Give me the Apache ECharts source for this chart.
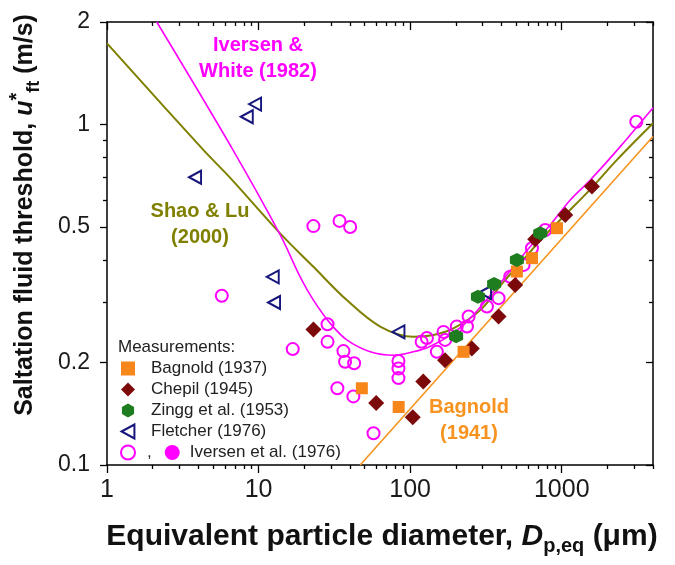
<!DOCTYPE html>
<html><head><meta charset="utf-8">
<script src="https://cdn.jsdelivr.net/npm/echarts@6/dist/echarts.min.js"></script>
<style>html,body{margin:0;padding:0;background:#fff}#c{width:675px;height:565px}</style>
</head><body><div id="c"></div>
<script>
// ---- tick values ----
const xMajorTicks = [1, 10, 100, 1000];
const xMinorTicks = [2,3,4,5,6,7,8,9,20,30,40,50,60,70,80,90,200,300,400,500,600,700,800,900,2000,3000,4000];
const yMajorTicks = [0.1, 0.2, 0.5, 1, 2];
const yMinorTicks = [0.3, 0.4, 0.6, 0.7, 0.8, 0.9];

// ---- measurements [D (um), u*ft (m/s)] ----
const bagnold1937 = [[48,0.168],[84,0.148],[225,0.215],[506,0.370],[636,0.405],[930,0.496]];
const chepil1945 = [[23,0.250],[59.7,0.152],[104,0.138],[122,0.176],[170,0.203],[255,0.220],[383,0.273],[493,0.338],[668,0.460],[1055,0.542],[1582,0.657]];
const zingg1953 = [[201,0.239],[280,0.312],[358,0.340],[506,0.400],[721,0.479]];
const fletcher1976 = [[3.81,0.700],[8.36,1.054],[9.48,1.148],[12.4,0.357],[12.65,0.300],[83.7,0.246],[312,0.321]];
const iversen1976 = [[5.72,0.314],[16.8,0.219],[23.0,0.503],[34.2,0.521],[40.2,0.500],[28.5,0.259],[28.5,0.230],
  [36.3,0.216],[37.2,0.201],[42.7,0.199],[33.1,0.168],[42.2,0.159],[57.3,0.124],[83.7,0.202],[83.7,0.192],[83.7,0.180],
  [119,0.230],[129,0.236],[150,0.215],[166,0.246],[170,0.233],[203,0.255],[237,0.255],[243,0.273],[321,0.292],
  [383,0.309],[457,0.357],[560,0.387],[636,0.433],[778,0.490],[3103,1.019]];

// ---- model curves ----
const iversenWhite1982 = [[2.13,2.0],[6.8,0.84],[13.9,0.474],[18.8,0.357],[23,0.305],[29.6,0.261],[38.2,0.233],[54.5,0.215],
  [77.6,0.210],[105,0.215],[135,0.223],[193,0.244],[262,0.276],[620,0.438],[839,0.507],[1138,0.600],[1542,0.687],[2432,0.861],[4000,1.12]];
const shaoLu2000 = [[1,1.73],[4.32,0.842],[6.5,0.697],[13.87,0.479],[23,0.382],[38.2,0.305],[63.4,0.255],[105,0.238],[142.5,0.241],
  [193,0.252],[290,0.285],[413,0.345],[532,0.391],[758,0.468],[1082,0.549],[1542,0.645],[2313,0.787],[4000,1.008]];
const bagnold1941 = [[46.8,0.1],[4000,0.922]];

const FONT = '"Liberation Sans", Arial, sans-serif';
const HEX = 'path://M0,-10 L8.66,-5 L8.66,5 L0,10 L-8.66,5 L-8.66,-5 Z';
const TRI = 'path://M0,6 L11,0 L11,12 Z';
const C = {bag:'#f7861b', che:'#7d0a0a', zin:'#1e7d1e', fle:'#16167c', ive:'#ff00ff', shao:'#808000', b41:'#f7931e'};

function mkAxis(dim, pos, ticks, len, inside, labels, line) {
  const isX = dim === 'x';
  return {
    type:'log', logBase:10, position:pos,
    min: isX ? 1 : 0.1, max: isX ? 4000 : 2,
    splitLine:{show:false}, minorTick:{show:false},
    axisLine:{show:line, onZero:false, lineStyle:{color:'#000', width:1.5}},
    axisTick:{show:true, customValues:ticks, length:len, inside:inside, lineStyle:{color:'#000', width:1.3}},
    axisLabel:{show:labels, customValues:ticks, formatter:v=>String(v),
      fontFamily:FONT, fontSize: isX ? 25 : 23, color:'#1a1a1a', margin: isX ? 13 : 17},
  };
}

const chart = echarts.init(document.getElementById('c'), null, {renderer:'canvas'});
chart.setOption({
  animation:false,
  backgroundColor:'#fff',
  grid:{left:107, top:22, width:546, height:443, containLabel:false, outerBoundsMode:'none'},
  xAxis:[
    mkAxis('x','bottom',xMajorTicks,8,false,true,true),
    mkAxis('x','bottom',xMinorTicks,4,false,false,false),
    mkAxis('x','top',xMajorTicks,8,true,false,true),
    mkAxis('x','top',xMinorTicks,4,true,false,false)
  ],
  yAxis:[
    mkAxis('y','left',yMajorTicks,7,false,true,true),
    mkAxis('y','left',yMinorTicks,4,false,false,false),
    mkAxis('y','right',yMajorTicks,7,true,false,true),
    mkAxis('y','right',yMinorTicks,4,true,false,false)
  ],
  legend:{
    orient:'vertical', left:120, top:360, padding:0, itemWidth:14, itemHeight:14, itemGap:4,
    textStyle:{fontFamily:FONT, fontSize:17, color:'#222', lineHeight:17,
      rich:{
        s0:{width:11},
        s1:{width:7},
        c:{fontFamily:FONT, fontSize:17, color:'#222'},
        s2:{width:13},
        d:{width:15, height:15, borderRadius:7.5, backgroundColor:C.ive},
        s3:{width:10}
      }},
    formatter: n => n === 'Iversen et al. (1976)' ? '{s1| }{c|,}{s2| }{d|}{s3| }' + n : '{s0| }' + n,
    data:[
      {name:'Bagnold (1937)'},
      {name:'Chepil (1945)'},
      {name:'Zingg et al. (1953)'},
      {name:'Fletcher (1976)', itemStyle:{color:'rgba(0,0,0,0)', borderColor:C.fle, borderWidth:2}},
      {name:'Iversen et al. (1976)', itemStyle:{color:'rgba(0,0,0,0)', borderColor:C.ive, borderWidth:2}}
    ]
  },
  series:[
    {name:'Bagnold (1941)', type:'line', data:bagnold1941, showSymbol:false, symbol:'none', z:1,
      lineStyle:{color:C.b41, width:1.6}},
    {name:'Shao & Lu (2000)', type:'line', data:shaoLu2000, smooth:0.35, showSymbol:false, symbol:'none', z:1,
      lineStyle:{color:C.shao, width:2}},
    {name:'Iversen & White (1982)', type:'line', data:iversenWhite1982, smooth:0.35, showSymbol:false, symbol:'none', z:1,
      lineStyle:{color:C.ive, width:1.6}},
    {name:'Iversen et al. (1976)', type:'scatter', data:iversen1976, symbol:'circle', symbolSize:12, z:3,
      itemStyle:{color:'rgba(0,0,0,0)', borderColor:C.ive, borderWidth:2, opacity:1}},
    {name:'Fletcher (1976)', type:'scatter', data:fletcher1976, symbol:TRI, symbolSize:[12,13], z:3,
      itemStyle:{color:'rgba(0,0,0,0)', borderColor:C.fle, borderWidth:2, opacity:1}},
    {name:'Chepil (1945)', type:'scatter', data:chepil1945, symbol:'diamond', symbolSize:16, z:4,
      itemStyle:{color:C.che, opacity:1}},
    {name:'Bagnold (1937)', type:'scatter', data:bagnold1937, symbol:'rect', symbolSize:12, z:5,
      itemStyle:{color:C.bag, opacity:1}},
    {name:'Zingg et al. (1953)', type:'scatter', data:zingg1953, symbol:HEX, symbolSize:14, z:6,
      itemStyle:{color:C.zin, opacity:1}}
  ],
  graphic:[
    {type:'text', x:258, y:58, z:10, style:{text:'Iversen &\nWhite (1982)', fill:C.ive, fontFamily:FONT, fontWeight:'bold', fontSize:20, lineHeight:26, align:'center', verticalAlign:'middle'}},
    {type:'text', x:200, y:224, z:10, style:{text:'Shao & Lu\n(2000)', fill:C.shao, fontFamily:FONT, fontWeight:'bold', fontSize:20, lineHeight:26, align:'center', verticalAlign:'middle'}},
    {type:'text', x:469, y:420, z:10, style:{text:'Bagnold\n(1941)', fill:C.b41, fontFamily:FONT, fontWeight:'bold', fontSize:20, lineHeight:26, align:'center', verticalAlign:'middle'}},
    {type:'text', x:118, y:347, z:10, style:{text:'Measurements:', fill:'#222', fontFamily:FONT, fontSize:17, align:'left', verticalAlign:'middle'}},
    {type:'text', x:25, y:215, rotation:Math.PI/2, z:10, style:{
      text:'Saltation fluid threshold, {i|u}{sup|*}{sub|ft} (m/s)', fill:'#111', fontFamily:FONT, fontWeight:'bold', fontSize:25, lineHeight:36,
      align:'center', verticalAlign:'middle',
      rich:{
        i:{fontFamily:FONT, fontWeight:'bold', fontStyle:'italic', fontSize:25, fill:'#111'},
        sup:{fontFamily:FONT, fontWeight:'bold', fontSize:20, verticalAlign:'top', lineHeight:20, fill:'#111'},
        sub:{fontFamily:FONT, fontWeight:'bold', fontSize:18, verticalAlign:'bottom', lineHeight:16, fill:'#111'}
      }}},
    {type:'text', x:382, y:537, z:10, style:{
      text:'Equivalent particle diameter, {i|D}{sub|p,eq} (\u03bcm)', fill:'#111', fontFamily:FONT, fontWeight:'bold', fontSize:30, lineHeight:38,
      align:'center', verticalAlign:'middle',
      rich:{
        i:{fontFamily:FONT, fontWeight:'bold', fontStyle:'italic', fontSize:30, fill:'#111'},
        sub:{fontFamily:FONT, fontWeight:'bold', fontSize:20, verticalAlign:'bottom', lineHeight:18, fill:'#111'}
      }}}
  ]
});
</script>
</body></html>
